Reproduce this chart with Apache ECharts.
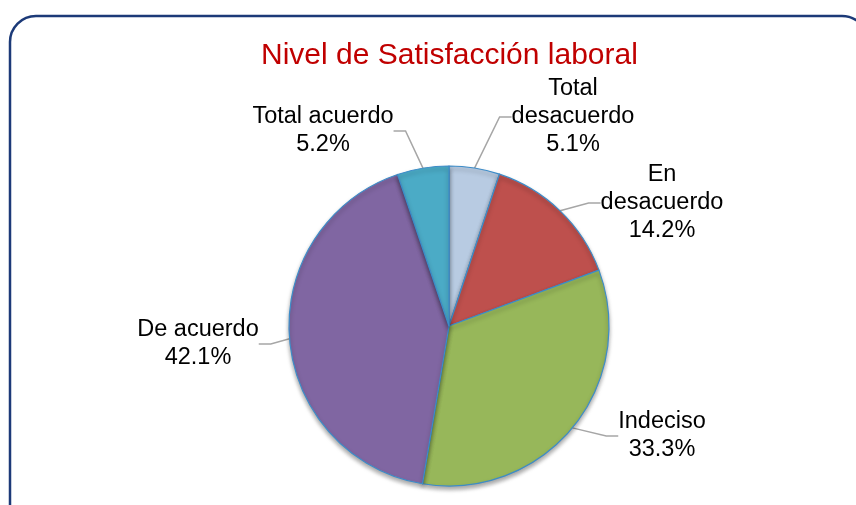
<!DOCTYPE html>
<html>
<head>
<meta charset="utf-8">
<script src="https://cdn.jsdelivr.net/npm/echarts@6/dist/echarts.min.js"></script>
<style>
  html, body { margin: 0; padding: 0; background: #fff; }
  #chart { width: 856px; height: 505px; }
</style>
</head>
<body>
<div id="chart"></div>
<script>
// data
const categories = ['Total desacuerdo', 'En desacuerdo', 'Indeciso', 'De acuerdo', 'Total acuerdo']
const labelNames = ['Total\ndesacuerdo', 'En\ndesacuerdo', 'Indeciso', 'De acuerdo', 'Total acuerdo']
const percents = [5.1, 14.2, 33.3, 42.1, 5.2]
const colors = ['#b8cbe2', '#be504d', '#97b75a', '#8066a2', '#4babc6']

// where each label sits (centre of text block)
const labelSpots = [[573, 117], [662, 203], [662, 436], [198, 344], [323, 131]]

const chart = echarts.init(document.getElementById('chart'))

const option = {
  animation: false,
  title: {
    text: 'Nivel de Satisfacción laboral',
    left: 256,
    top: 36,
    textStyle: {
      color: '#c00000',
      fontFamily: 'Liberation Sans, Arial, sans-serif',
      fontSize: 30,
      fontWeight: 'normal'
    }
  },
  graphic: [
    {
      type: 'rect',
      shape: { x: 10, y: 16, width: 858, height: 520, r: 26 },
      style: { fill: 'none', stroke: '#1c3a78', lineWidth: 2.5 },
      silent: true
    }
  ],
  series: [
    {
      type: 'pie',
      center: [449, 326],
      radius: 160,
      startAngle: 90,
      clockwise: true,
      data: categories.map(function (name, i) {
        return {
          name: name,
          value: percents[i],
          itemStyle: { color: colors[i] }
        }
      }),
      itemStyle: {
        borderColor: '#3d8cc8',
        borderWidth: 1.2,
        shadowColor: 'rgba(0,0,0,0.35)',
        shadowBlur: 4,
        shadowOffsetY: 3
      },
      label: {
        show: true,
        position: 'outside',
        formatter: function (p) {
          return labelNames[p.dataIndex] + '\n' + p.value.toFixed(1) + '%'
        },
        color: '#000',
        fontFamily: 'Liberation Sans, Arial, sans-serif',
        fontSize: 23.5,
        lineHeight: 28,
        align: 'center'
      },
      labelLine: {
        show: true,
        length: 20,
        length2: 12,
        lineStyle: { color: '#a6a6a6', width: 1.5 }
      },
      labelLayout: function (params) {
        const spot = labelSpots[params.dataIndex]
        return {
          x: spot[0],
          y: spot[1],
          align: 'center',
          verticalAlign: 'middle'
        }
      }
    }
  ]
}

chart.setOption(option)
</script>
</body>
</html>
